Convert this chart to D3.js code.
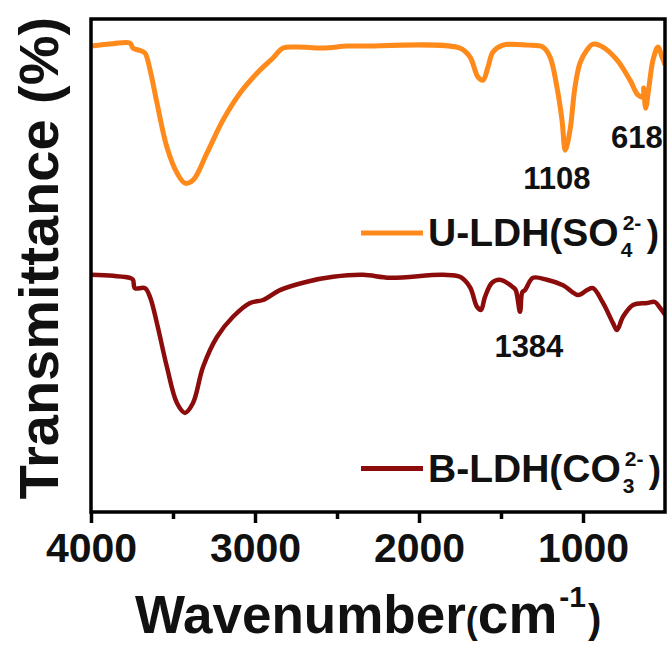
<!DOCTYPE html>
<html>
<head>
    <meta charset="utf-8" />
    <script src="https://cdn.jsdelivr.net/npm/d3@7"></script>
    <style>
        body { margin: 0; background: #fff; }
        text { font-family: Arial, "Liberation Sans", sans-serif; font-weight: bold; fill: #111; }
    </style>
</head>
<body>
<div id="chart"></div>
<script>
    // wavenumber (cm-1)
    var uWave = [4000, 3866, 3762, 3744, 3700, 3671, 3640, 3598, 3537, 3476, 3427, 3378, 3293, 3195, 3091, 2988, 2890, 2829, 2744, 2585, 2439, 2360,
        1750, 1689, 1640, 1610, 1579, 1549, 1488, 1341, 1244, 1201, 1159, 1128, 1108, 1079, 1049, 1018, 976, 939, 878, 793, 713, 665, 634, 630, 618, 598, 573, 543, 518, 500];
    // transmittance (a.u.) for U-LDH(SO4 2-)
    var uTrans = [94.5, 95.0, 95.1, 94.1, 93.6, 93.1, 89.7, 83.0, 74.0, 68.8, 66.7, 67.3, 72.8, 79.5, 85.0, 89.0, 92.1, 94.1, 94.3, 94.1, 94.5, 94.5,
        94.1, 92.3, 88.2, 87.6, 90.3, 93.3, 94.7, 94.7, 94.3, 92.3, 86.2, 79.5, 73.4, 77.5, 86.2, 91.1, 93.7, 94.9, 94.3, 91.7, 87.6, 84.6, 84.2, 86.0, 81.9, 86.2, 91.7, 94.3, 92.3, 90.7];

    var bWave = [4000, 3866, 3762, 3744, 3732, 3671, 3640, 3598, 3537, 3476, 3427, 3378, 3317, 3232, 3134, 3030, 2951, 2848, 2683, 2524, 2341, 2177, 1854,
        1750, 1689, 1646, 1622, 1598, 1555, 1506, 1427, 1410, 1384, 1370, 1354, 1305, 1220, 1122, 1030, 976, 939, 878, 817, 793, 756, 695, 610, 561, 530, 500];
    // transmittance (a.u.) for B-LDH(CO3 2-)
    var bTrans = [48.1, 47.9, 47.5, 47.1, 45.4, 45.4, 43.6, 38.3, 29.4, 22.1, 20.1, 22.1, 29.4, 35.5, 39.6, 42.4, 43.0, 45.0, 46.7, 47.7, 48.1, 47.5, 48.1,
        47.7, 45.6, 41.6, 41.0, 43.6, 46.5, 47.1, 45.6, 45.0, 40.6, 44.6, 45.0, 47.5, 47.1, 46.0, 44.0, 45.0, 45.4, 42.4, 38.3, 36.9, 39.6, 42.0, 42.4, 42.6, 41.4, 40.0];

    var majorTicks = [4000, 3000, 2000, 1000];
    var minorTicks = [3500, 2500, 1500];
    var peakLabels = [
        { text: "1108", wave: 1160, value: 65.5 },
        { text: "618", wave: 672, value: 73.8 },
        { text: "1384", wave: 1330, value: 31.4 }
    ];

    var width = 667, height = 645;
    var plotLeft = 91, plotRight = 665, plotTop = 19, plotBottom = 512;

    var svg = d3.select("#chart").append("svg")
        .attr("width", width)
        .attr("height", height);

    var x = d3.scaleLinear().domain([4000, 500]).range([plotLeft, plotRight]);
    var y = d3.scaleLinear().domain([0, 100]).range([plotBottom, plotTop]);

    var line = d3.line()
        .x(function (d) { return x(d[0]); })
        .y(function (d) { return y(d[1]); })
        .curve(d3.curveCatmullRom.alpha(0.5));

    var uData = uWave.map(function (w, i) { return [w, uTrans[i]]; });
    var bData = bWave.map(function (w, i) { return [w, bTrans[i]]; });

    svg.append("defs").append("clipPath").attr("id", "clip")
        .append("rect").attr("x", plotLeft).attr("y", plotTop)
        .attr("width", plotRight - plotLeft).attr("height", plotBottom - plotTop);

    svg.append("path").datum(uData)
        .attr("clip-path", "url(#clip)")
        .attr("d", line)
        .attr("fill", "none")
        .attr("stroke", "#ff8a1c")
        .attr("stroke-width", 5)
        .attr("stroke-linejoin", "round");

    svg.append("path").datum(bData)
        .attr("clip-path", "url(#clip)")
        .attr("d", line)
        .attr("fill", "none")
        .attr("stroke", "#8c0c0c")
        .attr("stroke-width", 4.5)
        .attr("stroke-linejoin", "round");

    // frame
    svg.append("rect")
        .attr("x", plotLeft).attr("y", plotTop)
        .attr("width", plotRight - plotLeft).attr("height", plotBottom - plotTop)
        .attr("fill", "none").attr("stroke", "#000").attr("stroke-width", 3.5);

    var xAxis = svg.append("g")
        .attr("transform", "translate(0," + plotBottom + ")")
        .call(d3.axisBottom(x).tickValues(majorTicks).tickSize(11).tickPadding(10).tickFormat(d3.format("d")));
    xAxis.select(".domain").remove();
    xAxis.selectAll("line").attr("stroke", "#000").attr("stroke-width", 3.5);
    xAxis.selectAll("text").style("font-size", "41px").attr("fill", "#111");

    var xMinor = svg.append("g")
        .attr("transform", "translate(0," + plotBottom + ")")
        .call(d3.axisBottom(x).tickValues(minorTicks).tickSize(7).tickFormat(""));
    xMinor.select(".domain").remove();
    xMinor.selectAll("line").attr("stroke", "#000").attr("stroke-width", 3.5);

    // x title
    var xt = svg.append("text").attr("x", 135).attr("y", 633);
    xt.append("tspan").style("font-size", "53px").text("Wavenumber");
    xt.append("tspan").style("font-size", "36px").text("(");
    xt.append("tspan").style("font-size", "55px").text("cm");
    xt.append("tspan").style("font-size", "30px").attr("dy", -26).attr("dx", 2).text("-1");
    xt.append("tspan").style("font-size", "40px").attr("dy", 26).attr("dx", 2).text(")");

    // y title
    svg.append("text")
        .attr("transform", "translate(58,258) rotate(-90)")
        .attr("text-anchor", "middle")
        .style("font-size", "56px")
        .text("Transmittance (%)");

    // peak labels
    svg.selectAll(".peak").data(peakLabels).enter().append("text")
        .attr("class", "peak")
        .attr("x", function (d) { return x(d.wave); })
        .attr("y", function (d) { return y(d.value); })
        .attr("text-anchor", "middle")
        .style("font-size", "31px")
        .text(function (d) { return d.text; });

    // legends
    var legends = [
        { label: "U-LDH(SO", sub: "4", color: "#ff8a1c", value: 56.6 },
        { label: "B-LDH(CO", sub: "3", color: "#8c0c0c", value: 8.8 }
    ];
    legends.forEach(function (l) {
        var ly = y(l.value);
        svg.append("line")
            .attr("x1", 361).attr("x2", 423)
            .attr("y1", ly).attr("y2", ly)
            .attr("stroke", l.color).attr("stroke-width", 5);
        var t = svg.append("text")
            .attr("x", 428).attr("y", ly + 13)
            .style("font-size", "39px")
            .text(l.label);
        var w = t.node().getComputedTextLength();
        var sx = 428 + w + 2;
        svg.append("text").attr("x", sx).attr("y", ly + 24).style("font-size", "21px").text(l.sub);
        svg.append("text").attr("x", sx + 2).attr("y", ly - 3).style("font-size", "21px").text("2-");
        svg.append("text").attr("x", sx + 26).attr("y", ly + 13).style("font-size", "37px").text(")");
    });
</script>
</body>
</html>
